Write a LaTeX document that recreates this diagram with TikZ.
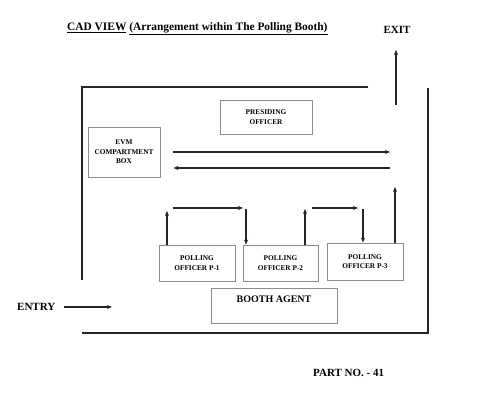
\documentclass[tikz,border=0pt]{standalone}
\usepackage{fontspec}
\setmainfont{Liberation Serif}
\usetikzlibrary{arrows.meta}
\begin{document}
\begin{tikzpicture}[x=1pt,y=-1pt,
  wall/.style={line width=2pt,draw=black!85},
  arr/.style={line width=1.5pt,draw=black!85,-{Stealth[length=5pt,width=4pt]}},
  box/.style={draw=black!45,line width=0.8pt,fill=white,inner sep=1pt,align=center,font=\fontsize{7.3}{9.5}\selectfont\bfseries},
  lbl/.style={inner sep=0pt,font=\fontsize{11}{13}\selectfont\bfseries}]
\useasboundingbox[fill=white] (0,0) rectangle (480,403);
% title
\node[lbl,font=\fontsize{11.4}{13}\selectfont\bfseries,anchor=west] (title) at (67,29) {\underline{CAD VIEW} \underline{(Arrangement within The Polling Booth)}};
\node[lbl] (exit) at (397,30) {EXIT};
% walls
\draw[wall] (368,87) -- (82,87) -- (82,280);
\draw[wall] (82,333) -- (428,333) -- (428,88);
\coordinate (gate) at (396,105);
\draw[wall] (396,80) -- (gate);
\coordinate (exitend) at (396,50);
\draw[arr] (gate) -- (exitend);
% boxes
\node[box,minimum width=92,minimum height=34] (pres) at (266,117) {PRESIDING\\OFFICER};
\node[box,minimum width=72,minimum height=50] (evm) at (124,152) {EVM\\COMPARTMENT\\BOX};
\node[box,minimum width=76,minimum height=36] (p1) at (197,263) {POLLING\\OFFICER P-1};
\node[box,minimum width=75,minimum height=36] (p2) at (280.5,263) {POLLING\\OFFICER P-2};
\node[box,minimum width=76,minimum height=37] (p3) at (365,261.5) {POLLING\\OFFICER P-3};
\node[box,minimum width=126,minimum height=35,
  label={[lbl,font=\fontsize{10}{12}\selectfont\bfseries,anchor=north,yshift=-8pt]north:BOOTH AGENT}] (booth) at (274,305.5) {};
% EVM arrows
\coordinate (r1) at (390,152);
\coordinate (l1) at (390,168);
\draw[arr] (evm.east |- r1) ++(13,0) -- (r1);
\draw[arr] (l1) -- ([xshift=13pt]evm.east |- l1);
% polling arrows
\coordinate (u1) at (167,211);
\coordinate (h1a) at (173,208);
\coordinate (h1b) at (243,208);
\coordinate (d1) at (246,209);
\coordinate (u2) at (305,209);
\coordinate (h2a) at (312,208);
\coordinate (h2b) at (358,208);
\coordinate (d2) at (363,209);
\coordinate (u3) at (395,187);
\draw[arr] (p1.north -| u1) -- (u1);
\draw[arr] (h1a) -- (h1b);
\draw[arr] (d1) -- (p2.north -| d1);
\draw[arr] (p2.north -| u2) -- (u2);
\draw[arr] (h2a) -- (h2b);
\draw[arr] (d2) -- (p3.north -| d2);
\draw[arr] (p3.north -| u3) -- (u3);
% entry
\node[lbl,anchor=west] (entry) at (17,307) {ENTRY};
\coordinate (entryend) at (112,307);
\draw[arr,line width=1.3pt] ([xshift=8pt]entry.east) -- (entryend);
% part no
\node[lbl,anchor=west] (part) at (313,373) {PART NO. - 41};
\end{tikzpicture}
\end{document}
